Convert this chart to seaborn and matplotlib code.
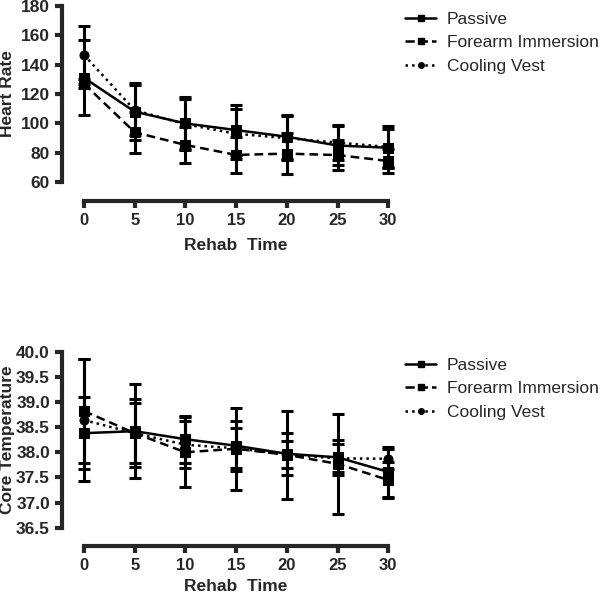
import numpy as np
import pandas as pd
import matplotlib
matplotlib.use('Agg')
import matplotlib.pyplot as plt
from matplotlib.lines import Line2D
import seaborn as sns

sns.set_style('ticks')
plt.rcParams['font.family'] = ['Liberation Sans', 'DejaVu Sans']

# rehab time points (min)
time = [0, 5, 10, 15, 20, 25, 30]
groups = ['Passive', 'Forearm Immersion', 'Cooling Vest']

# heart rate, mean and sd
hr_passive = [131, 108, 100, 95.5, 91, 85, 83.5]
hr_passive_sd = [25.5, 19.5, 18, 17, 15, 13, 13]
hr_forearm = [127, 94, 85.4, 78.6, 79.5, 78.5, 74.5]
hr_forearm_sd = [3, 14, 12.5, 12, 14, 10, 8]
hr_cooling = [146.5, 109, 99.5, 93, 90, 87, 84]
hr_cooling_sd = [20, 17, 17, 17, 15, 12, 14]

# core temperature, mean and sd
ct_passive = [38.38, 38.42, 38.26, 38.13, 37.97, 37.90, 37.61]
ct_passive_sd = [0.71, 0.93, 0.47, 0.5, 0.42, 0.35, 0.5]
ct_forearm = [38.82, 38.38, 38.00, 38.07, 37.95, 37.77, 37.45]
ct_forearm_sd = [1.03, 0.6, 0.7, 0.82, 0.87, 1.0, 0.35]
ct_cooling = [38.64, 38.38, 38.15, 38.08, 37.95, 37.88, 37.87]
ct_cooling_sd = [1.21, 0.68, 0.47, 0.4, 0.27, 0.28, 0.2]

styles = {'Passive': ('-', 's'), 'Forearm Immersion': ('--', 's'), 'Cooling Vest': (':', 'o')}
dash_map = {'Passive': '', 'Forearm Immersion': (3.5, 2), 'Cooling Vest': (1, 1.6)}


def make_df(means, sds):
    rows = []
    for g, m, s in zip(groups, means, sds):
        for t, mv, sv in zip(time, m, s):
            rows.append([g, t, mv, sv])
    return pd.DataFrame(rows, columns=['group', 'time', 'mean', 'sd'])


def draw_panel(ax, df, ylim, yticks, yfmt, ylabel, xpad):
    for g in groups:
        sub = df[df.group == g]
        ax.errorbar(sub.time, sub['mean'], yerr=sub.sd, fmt='none', ecolor='black',
                    elinewidth=2.2, capsize=4.5, capthick=2.2, clip_on=False, zorder=2)
    sns.lineplot(data=df, x='time', y='mean', hue='group', style='group',
                 palette=['black'] * 3, dashes=dash_map,
                 markers={g: styles[g][1] for g in groups}, markersize=6.5,
                 markeredgecolor='black', linewidth=1.8, ax=ax, legend=False,
                 clip_on=False, zorder=3)
    ax.set_xlim(0, 30)
    ax.set_ylim(*ylim)
    ax.set_xticks(time)
    ax.set_yticks(yticks)
    ax.set_yticklabels([yfmt.format(v) for v in yticks])
    sns.despine(ax=ax)
    ax.spines['left'].set_position(('outward', 16))
    ax.spines['bottom'].set_position(('outward', 13.5))
    for sp in ['left', 'bottom']:
        ax.spines[sp].set_linewidth(3)
    ax.spines['bottom'].set_bounds(0, 30)
    ax.spines['left'].set_bounds(*ylim)
    ax.tick_params(width=3, length=5)
    ax.tick_params(axis='x', labelsize=12)
    ax.tick_params(axis='y', labelsize=12.5)
    for lab in ax.get_xticklabels() + ax.get_yticklabels():
        lab.set_fontweight('bold')
    ax.set_xlabel('Rehab  Time', fontsize=12.5, fontweight='bold', labelpad=xpad)
    ax.set_ylabel(ylabel, fontsize=12.5, fontweight='bold')
    ax.yaxis.set_label_coords(-0.228, 0.5)


fig = plt.figure(figsize=(6, 5.95), dpi=100)
ax1 = fig.add_axes([0.14, 0.6936, 0.507, 0.2968])
ax2 = fig.add_axes([0.14, 0.1131, 0.507, 0.2958])

hr_df = make_df([hr_passive, hr_forearm, hr_cooling], [hr_passive_sd, hr_forearm_sd, hr_cooling_sd])
ct_df = make_df([ct_passive, ct_forearm, ct_cooling], [ct_passive_sd, ct_forearm_sd, ct_cooling_sd])

draw_panel(ax1, hr_df, (60, 180), [60, 80, 100, 120, 140, 160, 180], '{:.0f}', 'Heart Rate', 7)
draw_panel(ax2, ct_df, (36.5, 40.0), [36.5, 37.0, 37.5, 38.0, 38.5, 39.0, 39.5, 40.0], '{:.1f}',
           'Core Temperature', 4)

handles = [Line2D([], [], color='black', linestyle=styles[g][0], marker=styles[g][1],
                  markersize=4, linewidth=1.8) for g in groups]
for ytop in [1 - 12 / 595, 1 - 358 / 595]:
    fig.legend(handles, groups, loc='upper left', bbox_to_anchor=(405 / 600, ytop),
               frameon=False, fontsize=12.5, handlelength=1.8, handletextpad=0.6,
               labelspacing=0.47, borderpad=0, borderaxespad=0)

fig.savefig('out.png', dpi=100)
